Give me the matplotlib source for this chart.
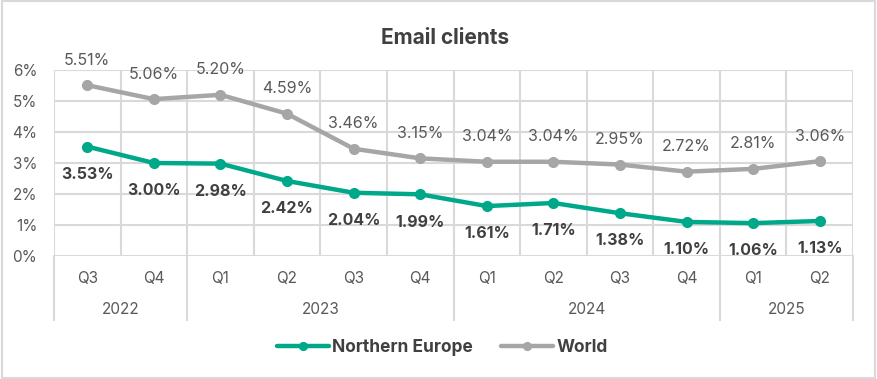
import matplotlib.pyplot as plt
import matplotlib.transforms as mtransforms
from matplotlib.patches import Rectangle

plt.rcParams['font.family'] = ['Inter', 'DejaVu Sans']

# data
quarters = ['Q3', 'Q4', 'Q1', 'Q2', 'Q3', 'Q4', 'Q1', 'Q2', 'Q3', 'Q4', 'Q1', 'Q2']
years = ['2022', '2023', '2024', '2025']
year_sizes = [2, 4, 4, 2]
northern_europe = [3.53, 3.00, 2.98, 2.42, 2.04, 1.99, 1.61, 1.71, 1.38, 1.10, 1.06, 1.13]
world = [5.51, 5.06, 5.20, 4.59, 3.46, 3.15, 3.04, 3.04, 2.95, 2.72, 2.81, 3.06]

teal = '#00A88A'
grey = '#A6A6A6'
grid_c = '#D9D9D9'
txt = '#595959'

W, H = 877, 379
fig = plt.figure(figsize=(W / 100, H / 100), dpi=100)
fig.patches.append(Rectangle((0.002, 0.003), 0.996, 0.994, transform=fig.transFigure,
                             fill=False, edgecolor=grid_c, linewidth=1.5))

ax = fig.add_axes([54 / W, 1 - 256 / H, (853 - 54) / W, (256 - 70) / H])
x = list(range(len(quarters)))

ax.set_xlim(-0.5, len(quarters) - 0.5)
ax.set_ylim(0, 6)
ax.set_yticks(range(7))
ax.set_yticklabels([f'{v}%' for v in range(7)], fontsize=11, color=txt)
ax.set_xticks([])
ax.tick_params(axis='y', length=0, pad=12)
for s in ax.spines.values():
    s.set_visible(False)
for v in range(7):
    ax.axhline(v, color=grid_c, lw=1.5, zorder=0)
for b in range(len(quarters) + 1):
    ax.axvline(b - 0.5, color=grid_c, lw=1.5, zorder=0)

ax.plot(x, world, color=grey, lw=3.2, marker='o', ms=7, label='World', zorder=3, solid_capstyle='round')
ax.plot(x, northern_europe, color=teal, lw=3.2, marker='o', ms=7, label='Northern Europe', zorder=3, solid_capstyle='round')

for i, v in enumerate(world):
    ax.annotate(f'{v:.2f}%', (i, v), xytext=(0, 18), textcoords='offset points',
                ha='center', va='center', fontsize=11.5, color=txt, annotation_clip=False)
for i, v in enumerate(northern_europe):
    ax.annotate(f'{v:.2f}%', (i, v), xytext=(0, -20), textcoords='offset points',
                ha='center', va='center', fontsize=11.5, color='#404040', fontweight='bold',
                annotation_clip=False)

# category axis below
trans = mtransforms.blended_transform_factory(ax.transData, fig.transFigure)
for i, q in enumerate(quarters):
    ax.text(i, 1 - 278 / H, q, transform=trans, ha='center', va='center', fontsize=11, color=txt)
start = 0
bounds = [-0.5]
for y, n in zip(years, year_sizes):
    ax.text(start + (n - 1) / 2, 1 - 310 / H, y, transform=trans, ha='center', va='center',
            fontsize=11, color=txt)
    start += n
    bounds.append(start - 0.5)
for b in bounds:
    ax.plot([b, b], [1 - 256 / H, 1 - 320 / H], transform=trans, color=grid_c, lw=1.5, clip_on=False)

fig.text(445 / W, 1 - 38 / H, 'Email clients', ha='center', va='center', fontsize=15,
         fontweight='bold', color='#404040')

h, l = ax.get_legend_handles_labels()
leg = fig.legend(h[::-1], l[::-1], loc='center', bbox_to_anchor=(442 / W, 1 - 348 / H), ncol=2,
                 frameon=False, prop={'size': 12.5, 'weight': 'bold'}, handlelength=3,
                 handletextpad=0.2, columnspacing=1.6, labelcolor='#404040', markerscale=0.8)

fig.savefig('out.png', dpi=100)
